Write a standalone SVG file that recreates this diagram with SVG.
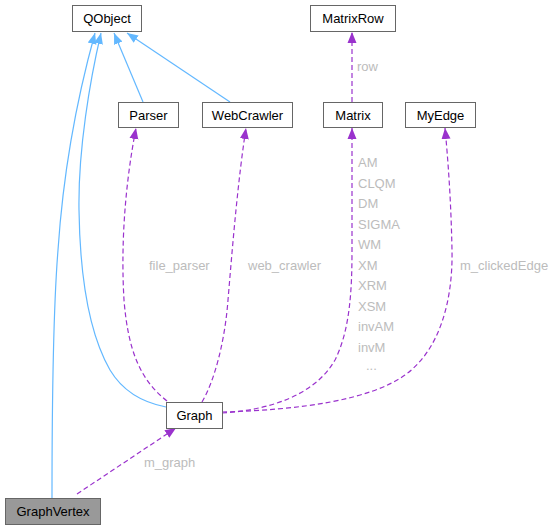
<svg xmlns="http://www.w3.org/2000/svg" width="558" height="530" viewBox="0 0 558 530">
<style>
text{font-family:"Liberation Sans",Arial,sans-serif;font-size:13px}
.node rect{fill:#fff;stroke:#666;stroke-width:1}
.node text{fill:#000;text-anchor:middle}
.inh{fill:none;stroke:#63b8ff;stroke-width:1.2;marker-end:url(#ab)}
.use{fill:none;stroke:#9a32cd;stroke-width:1.2;stroke-dasharray:5,3;marker-end:url(#ap)}
.lbl{fill:#bcbcbc}
</style>
<defs>
<marker id="ab" markerUnits="userSpaceOnUse" markerWidth="12" markerHeight="10" refX="11" refY="5" orient="auto"><path d="M0,0.5 L11,5 L0,9.5 z" fill="#63b8ff"/></marker>
<marker id="ap" markerUnits="userSpaceOnUse" markerWidth="12" markerHeight="10" refX="11" refY="5" orient="auto"><path d="M0,0.5 L11,5 L0,9.5 z" fill="#9a32cd"/></marker>
</defs>
<g id="edges">
<path class="inh" d="M52,498 C52,400 54,300 58,250 C64,160 82,80 95,33"/>
<path class="inh" d="M166,407 C140,402 122,390 110,370 C90,335 80,280 79,210 C78,150 90,80 101,33"/>
<path class="inh" d="M143,102 L114,33"/>
<path class="inh" d="M230,102 L127,33"/>
<path class="use" d="M352,102 L352,32"/>
<path class="use" d="M167,401 C140,380 128,350 124,300 C121,250 124,190 136,128"/>
<path class="use" d="M202,402 C215,380 225,340 228,300 C233,240 238,180 246,128"/>
<path class="use" d="M222,413 C270,410 315,395 335,360 C350,330 352,290 352,250 L352,128"/>
<path class="use" d="M222,412 C300,410 370,400 405,375 C440,350 453,300 452,250 C451,200 448,160 445,128"/>
<path class="use" d="M77,494 L176,428"/>
</g>
<g id="labels">
<text class="lbl" x="357" y="71">row</text>
<text class="lbl" x="149" y="270">file_parser</text>
<text class="lbl" x="248" y="270">web_crawler</text>
<text class="lbl" x="460" y="270">m_clickedEdge</text>
<text class="lbl" x="144" y="467">m_graph</text>
<text class="lbl" x="358" y="167">AM</text>
<text class="lbl" x="358" y="188">CLQM</text>
<text class="lbl" x="358" y="208">DM</text>
<text class="lbl" x="358" y="229">SIGMA</text>
<text class="lbl" x="358" y="249">WM</text>
<text class="lbl" x="358" y="270">XM</text>
<text class="lbl" x="358" y="290">XRM</text>
<text class="lbl" x="358" y="311">XSM</text>
<text class="lbl" x="358" y="331">invAM</text>
<text class="lbl" x="358" y="352">invM</text>
<text class="lbl" x="366" y="370">...</text>
</g>
<g id="QObject" class="node"><rect x="72.5" y="5.5" width="69" height="26"/><text x="107" y="23">QObject</text></g>
<g id="Parser" class="node"><rect x="118.5" y="102.5" width="60" height="25"/><text x="148.5" y="119.5">Parser</text></g>
<g id="WebCrawler" class="node"><rect x="202.5" y="102.5" width="90" height="25"/><text x="247.5" y="119.5">WebCrawler</text></g>
<g id="MatrixRow" class="node"><rect x="310.5" y="5.5" width="85" height="26"/><text x="353" y="23">MatrixRow</text></g>
<g id="Matrix" class="node"><rect x="323.5" y="102.5" width="59" height="25"/><text x="353" y="119.5">Matrix</text></g>
<g id="MyEdge" class="node"><rect x="405.5" y="102.5" width="70" height="25"/><text x="440.5" y="119.5">MyEdge</text></g>
<g id="Graph" class="node"><rect x="166.5" y="402.5" width="56" height="26"/><text x="194.5" y="420">Graph</text></g>
<g id="GraphVertex" class="node"><rect x="5.5" y="498.5" width="95" height="26" style="fill:#999"/><text x="53" y="516">GraphVertex</text></g>
</svg>
